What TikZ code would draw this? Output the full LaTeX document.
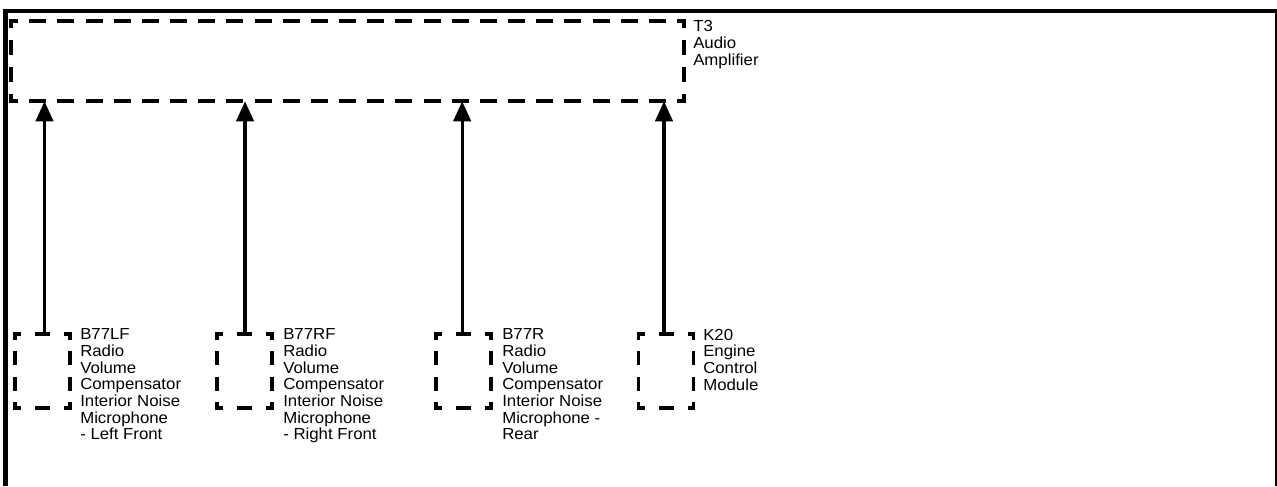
\documentclass[tikz,border=0pt]{standalone}
\usepackage{fontspec}
\setmainfont{Liberation Sans}[FakeStretch=1.05]
\usetikzlibrary{arrows.meta}
\newcommand\dside[7]{%
  \pgfmathsetmacro\dsL{veclen(#3-#1,#4-#2)}%
  \pgfmathsetmacro\dsG{(\dsL-2*#7-#5*#6)/(#5+1)*0.75}%
  \pgfmathsetmacro\dsD{#6*0.75}%
  \pgfmathsetmacro\dsP{(#6-#7)*0.75}%
  \draw[dline,dash pattern=on \dsD pt off \dsG pt,dash phase=\dsP pt] (#1,#2)--(#3,#4);}
\newcommand\dbox[9]{% x1 y1 x2 y2 nh dh nv dv c
  \dside{#1}{#2}{#3}{#2}{#5}{#6}{#9}%
  \dside{#1}{#4}{#3}{#4}{#5}{#6}{#9}%
  \dside{#1}{#2}{#1}{#4}{#7}{#8}{#9}%
  \dside{#3}{#2}{#3}{#4}{#7}{#8}{#9}%
  \draw[dline,line join=miter] (#1,#2+#9)--(#1,#2)--(#1+#9,#2);
  \draw[dline,line join=miter] (#3-#9,#2)--(#3,#2)--(#3,#2+#9);
  \draw[dline,line join=miter] (#1,#4-#9)--(#1,#4)--(#1+#9,#4);
  \draw[dline,line join=miter] (#3-#9,#4)--(#3,#4)--(#3,#4-#9);}
\tikzset{
  dline/.style={line width=2.6pt},
  arr/.style={line width=2.4pt,-{Triangle[length=15pt,width=13pt]}},
  lbl/.style={anchor=north west,inner sep=0pt,align=left,
    font=\fontsize{12pt}{12.5pt}\selectfont},
  boxnode/.style={inner sep=0pt,draw=none},
}
\begin{document}
\begin{tikzpicture}[x=0.75pt,y=-0.75pt]
\useasboundingbox (0,0) rectangle (1277,486);
% frame
\draw[line width=3pt] (3,11.3) -- (1277,11.3);
\draw[line width=3.6pt] (5.5,9.5) -- (5.5,486);
\draw[line width=1.2pt] (1276,11) -- (1276,486);
% amplifier box
\node[boxnode,minimum width=673*0.75pt,minimum height=80*0.75pt] (amp) at (347.5,61) {};
\dbox{11}{21}{684}{101}{23}{17}{2}{15}{7}
\node[lbl] (ampl) at (693,20.4) {T3\\Audio\\Amplifier};
% small boxes
\node[boxnode,minimum width=55*0.75pt,minimum height=74*0.75pt] (lf) at (42.5,371) {};
\dbox{15}{334}{70}{408}{1}{15}{2}{14}{6}
\node[boxnode,minimum width=55*0.75pt,minimum height=74*0.75pt] (rf) at (244.5,371) {};
\dbox{217}{334}{272}{408}{1}{15}{2}{14}{6}
\node[boxnode,minimum width=55*0.75pt,minimum height=74*0.75pt] (rr) at (463.5,371) {};
\dbox{436}{334}{491}{408}{1}{15}{2}{14}{6}
\node[boxnode,minimum width=55*0.75pt,minimum height=74*0.75pt] (ecm) at (666,371) {};
\dbox{638.5}{334}{693.5}{408}{1}{15}{2}{14}{6}
% labels
\node[lbl] (lfl) at (80,328.6) {B77LF\\Radio\\Volume\\Compensator\\Interior Noise\\Microphone\\- Left Front};
\node[lbl] (rfl) at (283,328.6) {B77RF\\Radio\\Volume\\Compensator\\Interior Noise\\Microphone\\- Right Front};
\node[lbl] (rrl) at (502,328.6) {B77R\\Radio\\Volume\\Compensator\\Interior Noise\\Microphone -\\Rear};
\node[lbl] (ecml) at (703,328.6) {K20\\Engine\\Control\\Module};
% connectors
\draw[arr] ([xshift=1.5pt]lf.north) -- ([xshift=1.5pt]lf.north |- amp.south);
\draw[arr] ([xshift=0.4pt]rf.north) -- ([xshift=0.4pt]rf.north |- amp.south);
\draw[arr] ([xshift=-1pt]rr.north) -- ([xshift=-1pt]rr.north |- amp.south);
\draw[arr] ([xshift=-1.5pt]ecm.north) -- ([xshift=-1.5pt]ecm.north |- amp.south);
\end{tikzpicture}
\end{document}
